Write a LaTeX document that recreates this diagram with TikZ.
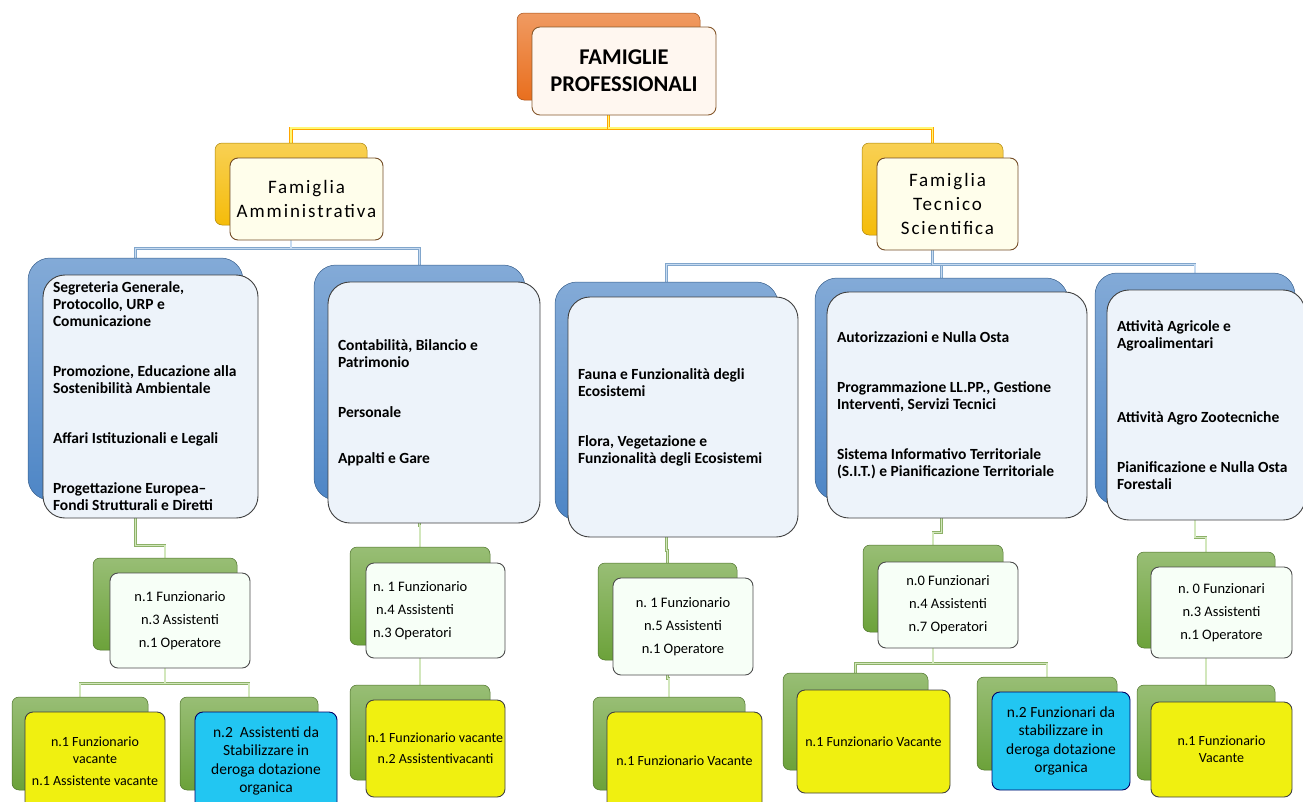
\documentclass[tikz,border=0pt]{standalone}
\usepackage{fontspec}
\setmainfont{Carlito}
\frenchspacing
\usetikzlibrary{backgrounds,calc}
\definecolor{orA}{HTML}{FAB27A}
\definecolor{orB}{HTML}{E96F1E}
\definecolor{ylA}{HTML}{FFE066}
\definecolor{ylB}{HTML}{F5BC0A}
\definecolor{blA}{HTML}{8FB8E3}
\definecolor{blB}{HTML}{4E86C6}
\definecolor{gnA}{HTML}{A6D07A}
\definecolor{gnB}{HTML}{6CA23A}
\definecolor{unitbg}{HTML}{EDF3FA}
\definecolor{leafyl}{HTML}{F0F010}
\definecolor{leafcy}{HTML}{22C6F2}
\tikzset{
  backbox/.style={rounded corners=7pt, inner sep=0pt, draw=#1!70!black, line width=0.5pt, top color=#1!70!white, bottom color=#1},
  frontbox/.style={rounded corners=8pt, inner sep=0pt, line width=0.9pt, align=center},
  topfr/.style={frontbox, draw=brown!70!black, fill=orange!6!white, font=\fontsize{22.5}{27}\selectfont\bfseries},
  famfr/.style={frontbox, draw=brown!60!black, fill=yellow!8!white, font=\fontsize{19}{24}\selectfont\addfontfeature{LetterSpace=10}},
  unitfr/.style={frontbox, rounded corners=22pt, draw=black!75, fill=unitbg, align=flush left, inner xsep=10pt, font=\fontsize{15.5}{17}\selectfont\bfseries},
  staffr/.style={frontbox, draw=black!70, fill=green!3!white, font=\fontsize{14.5}{23}\selectfont},
  vacfr/.style={frontbox, draw=black!75, fill=leafyl, font=\fontsize{14}{17}\selectfont},
  stabfr/.style={frontbox, draw=blue!40!black, fill=leafcy, font=\fontsize{15.5}{18.5}\selectfont},
  orconn/.style={draw=orange!70!yellow, double=yellow!55!white, double distance=1.8pt, line width=0.8pt},
  blconn/.style={draw=blA!90!black, double=blA!50!white, double distance=1.3pt, line width=0.7pt},
  gnconn/.style={draw=gnA!85!black, double=gnA!50!white, double distance=1.3pt, line width=0.7pt}
}

\begin{document}
\begin{tikzpicture}[x=1pt,y=-1pt]
\useasboundingbox (0,0) rectangle (1303,801);
% vertice
\node[backbox=orB, minimum width=183, minimum height=87] (topbk) at (608.5,56.5) {};
\node[topfr, minimum width=184, minimum height=88] (top) at (624,71) {FAMIGLIE\\PROFESSIONALI};
% famiglie
\node[backbox=ylB, minimum width=152, minimum height=82] (ammbk) at (291,184) {};
\node[famfr, minimum width=153, minimum height=82] (amm) at (306.5,199) {Famiglia\\Amministrativa};
\node[backbox=ylB, minimum width=141, minimum height=92] (tecbk) at (932.5,189) {};
\node[famfr, minimum width=141, minimum height=92] (tec) at (947.5,204) {Famiglia\\Tecnico\\Scientifica};
% servizi
\node[backbox=blB, rounded corners=22pt, minimum width=215, minimum height=242] (segbk) at (135.5,379) {};
\node[unitfr, minimum width=215, minimum height=243, text width=195] (seg) at (150.5,396.5)
  {Segreteria Generale,\\Protocollo, URP e\\Comunicazione\\[33pt]Promozione, Educazione alla\\Sostenibilità Ambientale\\[33pt]Affari Istituzionali e Legali\\[33pt]Progettazione Europea–\\Fondi Strutturali e Diretti};
\node[backbox=blB, rounded corners=22pt, minimum width=211, minimum height=235] (conbk) at (419.5,382.5) {};
\node[unitfr, minimum width=212, minimum height=241, text width=192] (con) at (434,402.5)
  {Contabilità, Bilancio e\\Patrimonio\\[33pt]Personale\\[29pt]Appalti e Gare};
\node[backbox=blB, rounded corners=22pt, minimum width=223, minimum height=238] (faubk) at (666.5,401) {};
\node[unitfr, minimum width=230, minimum height=240, text width=210] (fau) at (683,417)
  {Fauna e Funzionalità degli\\Ecosistemi\\[33pt]Flora, Vegetazione e\\Funzionalità degli Ecosistemi};
\node[backbox=blB, rounded corners=22pt, minimum width=253, minimum height=222] (autbk) at (941.5,389) {};
\node[unitfr, minimum width=260, minimum height=226, text width=240] (aut) at (957,405)
  {Autorizzazioni e Nulla Osta\\[33pt]Programmazione LL.PP., Gestione\\Interventi, Servizi Tecnici\\[33pt]Sistema Informativo Territoriale\\(S.I.T.) e Pianificazione Territoriale};
\node[backbox=blB, rounded corners=22pt, minimum width=200, minimum height=232] (attbk) at (1195,389) {};
\node[unitfr, minimum width=198, minimum height=230, text width=178] (att) at (1206,405)
  {Attività Agricole e\\Agroalimentari\\[57pt]Attività Agro Zootecniche\\[33pt]Pianificazione e Nulla Osta\\Forestali};
% dotazioni
\node[backbox=gnB, minimum width=144, minimum height=92] (g1bk) at (165,604) {};
\node[staffr, minimum width=140, minimum height=95] (g1) at (180,620.5) {n.1 Funzionario\\n.3 Assistenti\\n.1 Operatore};
\node[backbox=gnB, minimum width=140, minimum height=98] (g2bk) at (420,596) {};
\node[staffr, align=flush left, inner xsep=7pt, text width=125, minimum width=139, minimum height=95] (g2) at (435.5,610.5) {n. 1 Funzionario\\\hspace*{3pt}n.4 Assistenti\\n.3 Operatori};
\node[backbox=gnB, minimum width=139, minimum height=97] (g3bk) at (667.5,611.5) {};
\node[staffr, minimum width=140, minimum height=97] (g3) at (683,626.5) {n. 1 Funzionario\\n.5 Assistenti\\n.1 Operatore};
\node[backbox=gnB, minimum width=140, minimum height=87] (g4bk) at (933,588.5) {};
\node[staffr, minimum width=140, minimum height=86] (g4) at (948,605) {n.0 Funzionari\\n.4 Assistenti\\n.7 Operatori};
\node[backbox=gnB, minimum width=138, minimum height=96] (g5bk) at (1206,600) {};
\node[staffr, minimum width=141, minimum height=91] (g5) at (1221.5,612.5) {n. 0 Funzionari\\n.3 Assistenti\\n.1 Operatore};
% vacanti e stabilizzazioni
\node[backbox=gnB, minimum width=136, minimum height=93] (l1bk) at (80,743.5) {};
\node[vacfr, minimum width=140, minimum height=98] (l1) at (95,761) {n.1 Funzionario\\vacante\\[5pt]n.1 Assistente vacante};
\node[backbox=gnB, minimum width=138, minimum height=93] (l2bk) at (249,743.5) {};
\node[stabfr, minimum width=142, minimum height=98] (l2) at (266,761) {n.2\ \ Assistenti da\\Stabilizzare\ in\\deroga dotazione\\organica};
\node[backbox=gnB, minimum width=140, minimum height=95] (l3bk) at (420,732.5) {};
\node[vacfr, minimum width=139, minimum height=97] (l3) at (435.5,748.5) {n.1 Funzionario vacante\\[4pt]n.2 Assistentivacanti};
\node[backbox=gnB, minimum width=152, minimum height=93] (l4bk) at (669,743.5) {};
\node[vacfr, minimum width=155, minimum height=98] (l4) at (684.5,761) {n.1 Funzionario Vacante};
\node[backbox=gnB, minimum width=145, minimum height=97] (l5bk) at (855.5,721.5) {};
\node[vacfr, minimum width=153, minimum height=103] (l5) at (873.5,741.5) {n.1 Funzionario Vacante};
\node[backbox=gnB, minimum width=140, minimum height=93] (l6bk) at (1047,723.5) {};
\node[stabfr, minimum width=138, minimum height=98] (l6) at (1061,741) {n.2 Funzionari da\\stabilizzare in\\deroga dotazione\\organica};
\node[backbox=gnB, minimum width=138, minimum height=95] (l7bk) at (1206,732.5) {};
\node[vacfr, minimum width=141, minimum height=95] (l7) at (1221.5,749.5) {n.1 Funzionario\\Vacante};
% collegamenti
\begin{scope}[on background layer]
\draw[orconn] (topbk.south) -- ++(0,28) -| (ammbk.north);
\draw[orconn] (topbk.south) -- ++(0,28) -| (tecbk.north);
\draw[blconn] (ammbk.south) -- ++(0,23) -| (segbk.north);
\draw[blconn] (ammbk.south) -- ++(0,23) -| (conbk.north);
\draw[blconn] (tecbk.south) -- ++(0,29) -| (faubk.north);
\draw[blconn] (tecbk.south) -- ++(0,29) -| (autbk.north);
\draw[blconn] (tecbk.south) -- ++(0,29) -| (attbk.north);
\draw[gnconn] (segbk.south) -- ++(0,45) -| (g1bk.north);
\draw[gnconn] (conbk.south) -- ++(0,25) -| (g2bk.north);
\draw[gnconn] (faubk.south) -- ++(0,30) -| (g3bk.north);
\draw[gnconn] (autbk.south) -- ++(0,32) -| (g4bk.north);
\draw[gnconn] (attbk.south) -- ++(0,32) -| (g5bk.north);
\draw[gnconn] (g1bk.south) -- ++(0,33) -| (l1bk.north);
\draw[gnconn] (g1bk.south) -- ++(0,33) -| (l2bk.north);
\draw[gnconn] (g2bk.south) -- ++(0,20) -| (l3bk.north);
\draw[gnconn] (g3bk.south) -- ++(0,18) -| (l4bk.north);
\draw[gnconn] (g4bk.south) -- ++(0,31) -| (l5bk.north);
\draw[gnconn] (g4bk.south) -- ++(0,31) -| (l6bk.north);
\draw[gnconn] (g5bk.south) -- ++(0,18) -| (l7bk.north);
\end{scope}
\end{tikzpicture}
\end{document}
